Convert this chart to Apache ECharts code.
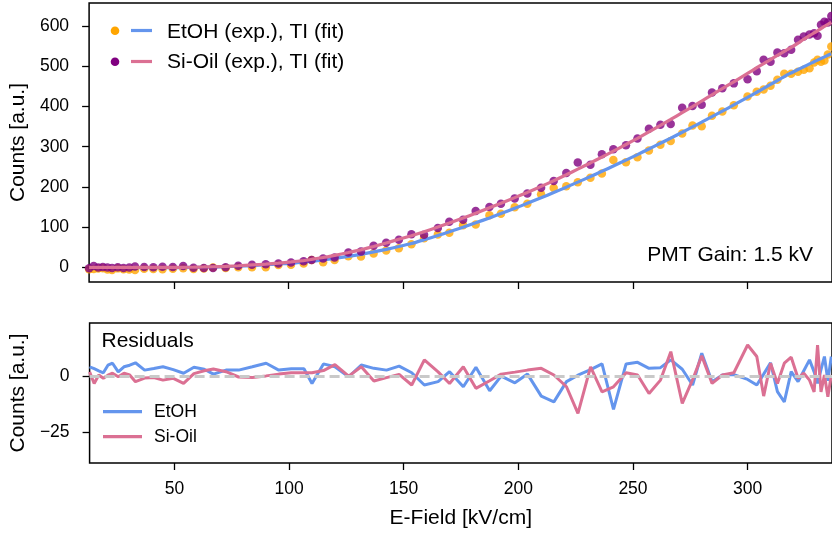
<!DOCTYPE html>
<html>
<head>
<meta charset="utf-8">
<script src="https://cdn.jsdelivr.net/npm/echarts@6/dist/echarts.min.js"></script>
<style>
html,body{margin:0;padding:0;background:#fff;}
#chart{width:832px;height:534px;}
</style>
</head>
<body>
<div id="chart"></div>
<script>
// ---- data ----
const E_FIELD = [13, 15, 17, 19, 21, 23, 25.5, 28, 30.5, 33, 37, 41, 45, 49.5, 54, 58.5, 63, 67, 72.5, 78, 84, 90, 95.5, 101, 106.5, 110, 115, 120, 126, 131.5, 137, 142.5, 148, 153.5, 159, 165, 170, 176, 181.5, 187.5, 192.5, 198.5, 204, 210, 215.5, 221, 226, 231.5, 236.5, 241.5, 247, 252, 257, 262, 266.5, 271.5, 276, 280, 284.5, 289, 294, 300, 304, 307, 310, 313, 316, 319, 322, 324.5, 327, 329, 330.5, 332, 333.5, 335, 336.5];

const etohCounts = [-5.8, -5, -4, -3.1, -6.5, -7.4, -3.5, -5.8, -6.5, -7.6, -4.3, -5, -5.8, -4.5, -2.9, -5.1, -4, -1.3, -2.3, -0.8, -0.8, -0.4, 4.7, 5.6, 8.6, 17.2, 11.9, 17.2, 26.7, 26.4, 33.9, 41.2, 46.4, 56.9, 71.7, 80.8, 85.5, 103.8, 106, 128.9, 133, 149.1, 157.7, 181.5, 197.2, 201.5, 211.1, 222.6, 233, 266.7, 261, 274, 290.7, 304.6, 314, 332.8, 353.2, 350.9, 377.3, 388.1, 403.4, 425, 437, 443, 452, 467, 482, 482, 487, 492, 496, 510, 517, 512, 515, 530, 550];

const etohFit = [-1.5, -1.5, -1.5, -1.5, -1.5, -1.5, -1.5, -1.5, -1.5, -1.5, -1.5, -1.5, -1.5, -1.5, -1.5, -1, -0.8, -0.3, 0.5, 2, 3.5, 5.5, 7.5, 9, 12, 14, 17.5, 21.5, 26.5, 31.5, 37.5, 44, 51, 58.5, 67.8, 78.4, 87.6, 99.1, 110.1, 122.4, 133.1, 146.2, 158.7, 172.6, 185.7, 199.1, 211.6, 225.6, 238.6, 251.8, 266.6, 280.3, 294.3, 308.5, 321.4, 336, 349.3, 361.3, 374.9, 388.7, 404.2, 423.1, 435.9, 445.5, 455.3, 465.1, 474.9, 484, 492.5, 499.5, 506.5, 512, 516, 520, 524, 528, 532];

const siCounts = [-3, 2.2, -1.6, -0.1, -1.5, -2.4, -0.8, -2.4, -1.6, 1.4, -0.2, -0.5, 0.7, -0.1, 2.4, -1.7, -2.5, -2.8, -0.6, 3.3, 5.5, 6.8, 8.5, 10.9, 14.4, 17.4, 20.9, 23.7, 35.9, 38.7, 53.1, 60.6, 68.1, 81.9, 80.6, 97.5, 112.7, 117.7, 139.4, 149.5, 158, 171.1, 183.2, 197.4, 214.4, 234.7, 260.7, 255.2, 281, 293.7, 303.9, 320.4, 344.7, 354.7, 356.9, 397.2, 401.5, 404.8, 435, 446, 458, 468, 488, 517, 512, 535, 533, 542, 567, 575, 580, 583, 577, 604, 612, 610, 626];

const siFit = [-1, -1, -1, -1, -1, -1, -1, -1, -1, -1, -1, -1, -1, -1, -0.8, -0.5, 0, 0.5, 1.5, 3, 5, 7, 9.5, 12.5, 16, 19, 23.5, 29, 36, 43, 51, 60, 69, 78, 88, 99.5, 109.5, 122, 134, 147.5, 159, 173, 186, 201, 215, 230, 244, 259.5, 274, 289, 305.5, 321, 337, 353, 368, 385, 400, 414, 429.5, 445, 462, 483, 497, 507, 517.5, 528, 538, 548, 558.5, 568, 577, 584, 589, 594.5, 600, 605, 610];

const etohResid = [4.3, 3.5, 2.5, 1.6, 5, 5.9, 2, 4.3, 5, 6.1, 2.8, 3.5, 4.3, 3, 1.4, 4.1, 3.2, 1, 2.8, 2.8, 4.3, 5.9, 2.8, 3.4, 3.4, -3.2, 5.6, 4.3, -0.2, 5.1, 3.6, 2.8, 4.6, 1.6, -3.9, -2.4, 2.1, -4.7, 4.1, -6.5, 0.1, -2.9, 1, -8.9, -11.5, -2.4, 0.5, 3, 5.6, -14.9, 5.6, 6.3, 3.6, 3.9, 7.4, 3.2, -3.9, 10.4, -2.4, 0.6, 0.8, -1.4, -3.9, 1, 6.1, -6.9, -11.5, 2.1, -2.4, 2.5, 7.4, 2, -3.2, 3, 8.9, -2, 8.9];

const siResid = [2, -3.2, 0.6, -0.9, 0.5, 1.4, -0.2, 1.4, 0.6, -2.4, -0.8, -0.5, -1.7, -0.9, -3.2, 1.2, 2.5, 3.3, 2.1, -0.3, -0.5, 0.2, 1, 1.6, 1.6, 1.6, 2.6, 5.3, 0.1, 4.3, -2.1, -0.6, 0.9, -3.9, 7.4, 2, -3.2, 4.3, -5.4, -2, 1, 1.9, 2.8, 3.6, 0.6, -4.7, -16.7, 4.3, -7, -4.7, 1.6, 0.6, -7.7, -1.7, 11.1, -12.2, -1.5, 9.2, -3.2, 0.6, 1.6, 14.1, 8.9, -8.9, 5.9, -3.2, 5.9, 8.6, -0.9, 1.4, -1.7, -7, 14.1, -7, 0.6, -9.2, 0.6];

const X_TICKS = [50, 100, 150, 200, 250, 300];
const Y_TICKS_TOP = [0, 100, 200, 300, 400, 500, 600];
const Y_TICKS_RES = [-25, 0];

// ---- chart ----
const FONT = '"Liberation Sans", Arial, sans-serif';
const C_ORANGE = '#FFA500', C_PURPLE = '#800080', C_BLUE = '#6495ED', C_PINK = '#DB7093';
const pair = (xs, ys) => xs.map((x, i) => [x, ys[i]]);

const chart = echarts.init(document.getElementById('chart'), null, {renderer: 'canvas'});

const tickStyle = {lineStyle: {color: '#000', width: 1.3}, length: 7, inside: false};
const xBase = {
  type: 'value', min: 13, max: 336.8,
  axisLine: {show: false, onZero: false},
  splitLine: {show: false}
};

const option = {
  backgroundColor: '#fff',
  animation: false,
  textStyle: {fontFamily: FONT},
  grid: [
    {left: 88, top: 3, right: -2, height: 279, show: true, borderColor: '#000', borderWidth: 1.5, backgroundColor: 'transparent'},
    {left: 88, top: 323, right: -2, height: 140, show: true, borderColor: '#000', borderWidth: 1.5, backgroundColor: 'transparent'}
  ],
  xAxis: [
    Object.assign({}, xBase, {gridIndex: 0, position: 'bottom',
      axisTick: Object.assign({customValues: X_TICKS}, tickStyle),
      axisLabel: {show: false}}),
    Object.assign({}, xBase, {gridIndex: 1, position: 'bottom',
      axisTick: Object.assign({customValues: X_TICKS}, tickStyle),
      axisLabel: {customValues: X_TICKS, color: '#000', fontSize: 17.5, fontFamily: FONT, margin: 17},
      name: 'E-Field [kV/cm]', nameLocation: 'middle', nameGap: 45,
      nameTextStyle: {color: '#000', fontSize: 21, fontFamily: FONT}})
  ],
  yAxis: [
    {gridIndex: 0, type: 'value', min: -37.5, max: 658.5, position: 'left',
      axisLine: {show: false, onZero: false}, splitLine: {show: false},
      axisTick: Object.assign({customValues: Y_TICKS_TOP}, tickStyle),
      axisLabel: {customValues: Y_TICKS_TOP, color: '#000', fontSize: 17.5, fontFamily: FONT, margin: 20},
      name: 'Counts [a.u.]', nameLocation: 'middle', nameGap: 60,
      nameTextStyle: {color: '#000', fontSize: 21, fontFamily: FONT}},
    {gridIndex: 1, type: 'value', min: -39, max: 24, position: 'left',
      axisLine: {show: false, onZero: false}, splitLine: {show: false},
      axisTick: Object.assign({customValues: Y_TICKS_RES}, tickStyle),
      axisLabel: {customValues: Y_TICKS_RES, color: '#000', fontSize: 17.5, fontFamily: FONT, margin: 20,
        formatter: v => (v < 0 ? '\u2212' + Math.abs(v) : String(v))},
      name: 'Counts [a.u.]', nameLocation: 'middle', nameGap: 60,
      nameTextStyle: {color: '#000', fontSize: 21, fontFamily: FONT}}
  ],
  series: [
    {name: 'EtOH (exp.)', type: 'scatter', xAxisIndex: 0, yAxisIndex: 0,
      data: pair(E_FIELD, etohCounts), symbolSize: 8.5, itemStyle: {color: C_ORANGE}, z: 2},
    {name: 'EtOH TI (fit)', type: 'line', xAxisIndex: 0, yAxisIndex: 0,
      data: pair(E_FIELD, etohFit), showSymbol: false, smooth: 0.2, lineStyle: {color: C_BLUE, width: 3.2}, z: 3},
    {name: 'Si-Oil (exp.)', type: 'scatter', xAxisIndex: 0, yAxisIndex: 0,
      data: pair(E_FIELD, siCounts), symbolSize: 8.5, itemStyle: {color: C_PURPLE}, z: 4},
    {name: 'Si-Oil TI (fit)', type: 'line', xAxisIndex: 0, yAxisIndex: 0,
      data: pair(E_FIELD, siFit), showSymbol: false, smooth: 0.2, lineStyle: {color: C_PINK, width: 3.2}, z: 5},
    {name: 'zero', type: 'line', xAxisIndex: 1, yAxisIndex: 1, data: [], z: 1,
      markLine: {silent: true, symbol: 'none', label: {show: false},
        lineStyle: {type: [10, 5], color: '#c9c9c9', width: 3}, data: [{yAxis: 0}]}},
    {name: 'EtOH', type: 'line', xAxisIndex: 1, yAxisIndex: 1,
      data: pair(E_FIELD, etohResid), showSymbol: false, lineStyle: {color: C_BLUE, width: 3}, z: 3},
    {name: 'Si-Oil', type: 'line', xAxisIndex: 1, yAxisIndex: 1,
      data: pair(E_FIELD, siResid), showSymbol: false, lineStyle: {color: C_PINK, width: 3}, z: 4}
  ],
  graphic: [
    // top legend
    {type: 'circle', shape: {cx: 115, cy: 30.7, r: 4.3}, style: {fill: C_ORANGE}},
    {type: 'line', shape: {x1: 131, y1: 30.5, x2: 152, y2: 30.5}, style: {stroke: C_BLUE, lineWidth: 3.2}},
    {type: 'text', x: 167, y: 32, style: {text: 'EtOH (exp.), TI (fit)', fill: '#000', font: '21px ' + FONT, verticalAlign: 'middle'}},
    {type: 'circle', shape: {cx: 115, cy: 61.7, r: 4.3}, style: {fill: C_PURPLE}},
    {type: 'line', shape: {x1: 131, y1: 61.5, x2: 152, y2: 61.5}, style: {stroke: C_PINK, lineWidth: 3.2}},
    {type: 'text', x: 167, y: 62.5, style: {text: 'Si-Oil (exp.), TI (fit)', fill: '#000', font: '21px ' + FONT, verticalAlign: 'middle'}},
    {type: 'text', x: 813, y: 255, style: {text: 'PMT Gain: 1.5 kV', fill: '#000', font: '21px ' + FONT, align: 'right', verticalAlign: 'middle'}},
    // residual panel
    {type: 'text', x: 101.5, y: 341, style: {text: 'Residuals', fill: '#000', font: '21px ' + FONT, verticalAlign: 'middle'}},
    {type: 'line', shape: {x1: 103, y1: 411.7, x2: 142, y2: 411.7}, style: {stroke: C_BLUE, lineWidth: 3.2}},
    {type: 'text', x: 154, y: 412.5, style: {text: 'EtOH', fill: '#000', font: '17.5px ' + FONT, verticalAlign: 'middle'}},
    {type: 'line', shape: {x1: 103, y1: 436.7, x2: 142, y2: 436.7}, style: {stroke: C_PINK, lineWidth: 3.2}},
    {type: 'text', x: 154, y: 437.5, style: {text: 'Si-Oil', fill: '#000', font: '17.5px ' + FONT, verticalAlign: 'middle'}}
  ]
};
chart.setOption(option);
</script>
</body>
</html>
